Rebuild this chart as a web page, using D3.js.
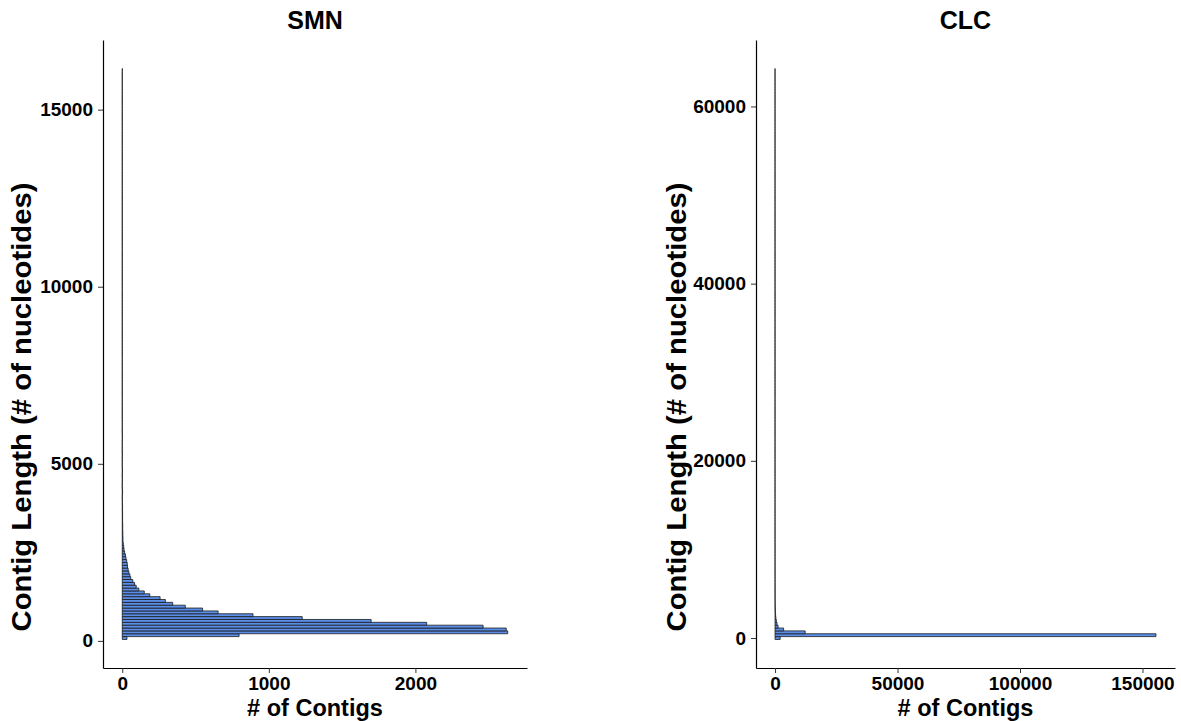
<!DOCTYPE html>
<html>
<head>
<meta charset="utf-8">
<script src="https://cdn.jsdelivr.net/npm/d3@7/dist/d3.min.js"></script>
<style>
  body { margin: 0; background: #fff; }
  svg text { font-family: "Liberation Sans", Arial, sans-serif; font-weight: bold; fill: #000; }
</style>
</head>
<body>
<svg id="chart" width="1181" height="721"></svg>
<script>

// SMN histogram : 200 bins, bin k centred on k * binWidth (k starts at smnFirstBin)
const smnBinWidth = 80.6;
const smnFirstBin = 1;
const smnCounts = [
  32, 797, 2630, 2620, 2462, 2077, 1698, 1228, 892, 654,
  548, 430, 344, 294, 258, 188, 150, 113, 95, 84,
  72, 58, 52, 45, 40, 36, 34, 30, 25, 22,
  16, 12, 10, 7, 5, 5, 4, 4, 3, 3,
  3, 2, 2, 2, 2, 1, 2, 1, 1, 0,
  1, 2, 1, 0, 0, 1, 1, 0, 1, 1,
  0, 0, 0, 0, 1, 0, 0, 0, 0, 0,
  1, 1, 0, 0, 0, 1, 0, 0, 0, 0,
  0, 0, 0, 0, 0, 0, 0, 0, 0, 0,
  0, 0, 0, 0, 0, 0, 0, 0, 0, 0,
  0, 0, 0, 0, 0, 0, 0, 0, 0, 0,
  0, 0, 0, 0, 0, 0, 0, 0, 0, 0,
  0, 0, 0, 0, 0, 0, 0, 0, 0, 0,
  0, 0, 0, 0, 0, 0, 0, 0, 0, 0,
  0, 0, 0, 0, 0, 0, 0, 0, 0, 0,
  0, 0, 0, 0, 0, 0, 0, 0, 0, 0,
  0, 0, 0, 0, 0, 0, 0, 0, 0, 0,
  0, 0, 0, 0, 0, 0, 0, 0, 0, 0,
  0, 0, 0, 0, 0, 0, 0, 0, 0, 0,
  0, 0, 0, 0, 0, 0, 0, 0, 0, 1
];
const smnXTicks = [0, 1000, 2000];
const smnYTicks = [0, 5000, 10000, 15000];

// CLC histogram
const clcBinWidth = 322.2;
const clcFirstBin = 0;
const clcCounts = [
  2100, 155500, 12300, 3500, 1250, 800, 520, 340, 230, 160,
  110, 80, 60, 45, 34, 26, 20, 16, 12, 10,
  8, 7, 5, 4, 4, 3, 3, 2, 2, 2,
  1, 1, 1, 0, 1, 0, 1, 0, 0, 0,
  1, 0, 0, 0, 0, 0, 0, 0, 0, 0,
  0, 0, 0, 0, 0, 0, 0, 0, 0, 0,
  0, 0, 0, 0, 0, 0, 0, 0, 0, 0,
  0, 0, 0, 0, 0, 0, 0, 0, 0, 0,
  0, 0, 0, 0, 0, 0, 0, 0, 0, 0,
  0, 0, 0, 0, 0, 0, 0, 0, 0, 0,
  0, 0, 0, 0, 0, 0, 0, 0, 0, 0,
  0, 0, 0, 0, 0, 0, 0, 0, 0, 0,
  0, 0, 0, 0, 0, 0, 0, 0, 0, 0,
  0, 0, 0, 0, 0, 0, 0, 0, 0, 0,
  0, 0, 0, 0, 0, 0, 0, 0, 0, 0,
  0, 0, 0, 0, 0, 0, 0, 0, 0, 0,
  0, 0, 0, 0, 0, 0, 0, 0, 0, 0,
  0, 0, 0, 0, 0, 0, 0, 0, 0, 0,
  0, 0, 0, 0, 0, 0, 0, 0, 0, 0,
  0, 0, 0, 0, 0, 0, 0, 0, 0, 1
];
const clcXTicks = [0, 50000, 100000, 150000];
const clcYTicks = [0, 20000, 40000, 60000];

const xTitle = "# of Contigs";
const yTitle = "Contig Length (# of nucleotides)";

const svg = d3.select("#chart");

function drawPanel(p) {
  const g = svg.append("g");

  // bins as rectangles [lo, hi] on the length axis
  const bins = p.counts.map((n, i) => ({
    lo: (p.firstBin + i - 0.5) * p.binWidth,
    hi: (p.firstBin + i + 0.5) * p.binWidth,
    n: n
  }));

  // ggplot style 5% expansion
  const yLo = bins[0].lo, yHi = bins[bins.length - 1].hi;
  const yPad = (yHi - yLo) * 0.05;
  const y = d3.scaleLinear()
      .domain([yLo - yPad, yHi + yPad])
      .range([p.bottom, p.top]);

  const xMax = d3.max(p.counts);
  const x = d3.scaleLinear()
      .domain([-xMax * 0.05, xMax * 1.05])
      .range([p.left, p.right]);

  // Bars (paths, so that empty bins still draw their outline)
  g.selectAll(".bar")
      .data(bins)
      .enter()
      .append("path")
      .attr("class", "bar")
      .attr("d", d => `M${x(0)},${y(d.lo)}H${x(d.n)}V${y(d.hi)}H${x(0)}Z`)
      .attr("fill", "#5b8ee8")
      .attr("stroke", "#1a1a1a")
      .attr("stroke-width", 0.8);

  // Axes
  const yAxis = g.append("g")
      .attr("transform", `translate(${p.left},0)`)
      .call(d3.axisLeft(y).tickValues(p.yTicks).tickFormat(d3.format("d"))
        .tickSize(5).tickSizeOuter(0).tickPadding(5));
  const xAxis = g.append("g")
      .attr("transform", `translate(0,${p.bottom})`)
      .call(d3.axisBottom(x).tickValues(p.xTicks).tickFormat(d3.format("d"))
        .tickSize(5).tickSizeOuter(0).tickPadding(4));

  [yAxis, xAxis].forEach(a => {
    a.attr("font-family", null).attr("font-size", null);
    a.select(".domain").attr("stroke", "#000").attr("stroke-width", 1.2);
    a.selectAll(".tick line").attr("stroke", "#333").attr("stroke-width", 1);
    a.selectAll(".tick text").style("font-size", "19px").attr("fill", "#000");
  });

  // Titles
  const cx = (p.left + p.right) / 2;
  g.append("text")
      .attr("x", cx).attr("y", 29)
      .attr("text-anchor", "middle")
      .style("font-size", "25px")
      .text(p.title);
  g.append("text")
      .attr("x", cx).attr("y", 716)
      .attr("text-anchor", "middle")
      .style("font-size", "23.5px")
      .text(xTitle);
  g.append("text")
      .attr("transform", `translate(${p.yTitleX},${p.yTitleY}) rotate(-90)`)
      .attr("text-anchor", "middle")
      .attr("textLength", 449)
      .attr("lengthAdjust", "spacingAndGlyphs")
      .style("font-size", "27px")
      .text(yTitle);
}

drawPanel({
  title: "SMN", counts: smnCounts, binWidth: smnBinWidth, firstBin: smnFirstBin,
  xTicks: smnXTicks, yTicks: smnYTicks,
  left: 103, right: 527, top: 40, bottom: 668, yTitleX: 31, yTitleY: 407
});

drawPanel({
  title: "CLC", counts: clcCounts, binWidth: clcBinWidth, firstBin: clcFirstBin,
  xTicks: clcXTicks, yTicks: clcYTicks,
  left: 756, right: 1175, top: 40, bottom: 668, yTitleX: 686, yTitleY: 407
});

</script>
</body>
</html>
